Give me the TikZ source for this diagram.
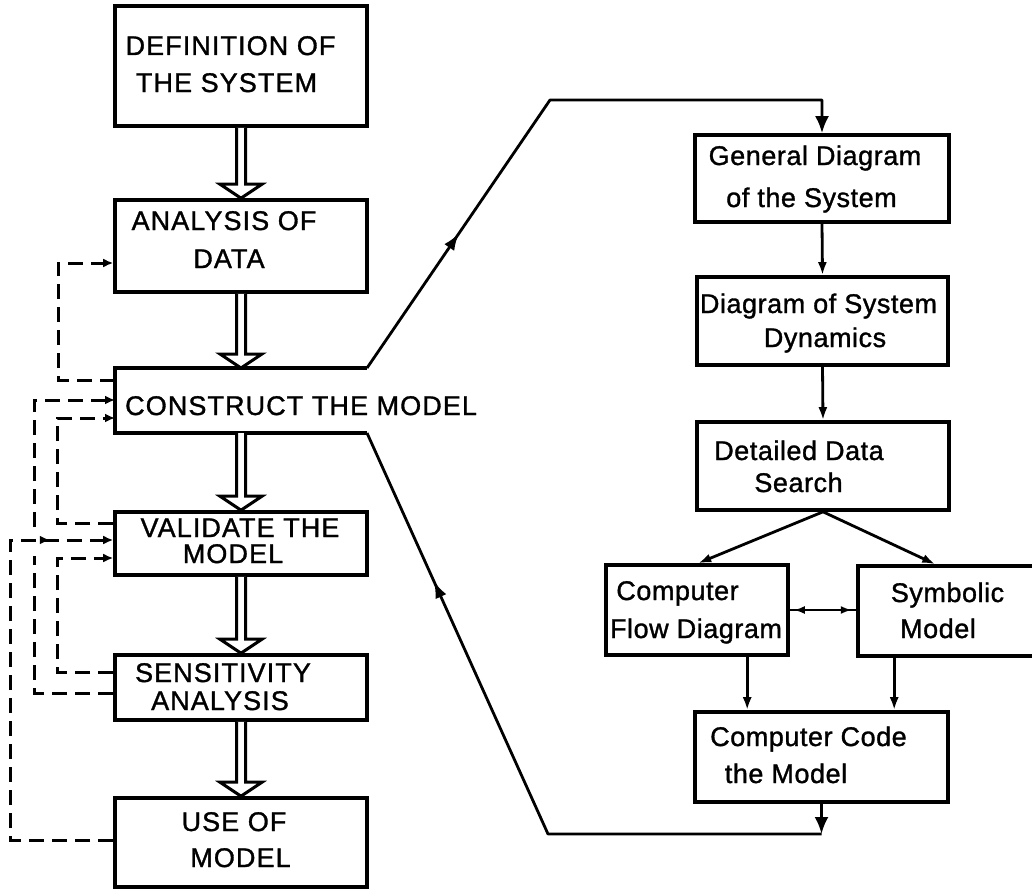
\documentclass[tikz,border=0pt]{standalone}
\usepackage{fontspec}
\setmainfont{Liberation Sans}
\newfontfamily\capfont[LetterSpace=4,FakeBold=1.2]{Liberation Sans}
\newfontfamily\lowfont[LetterSpace=2,FakeBold=1.2]{Liberation Sans}
\usetikzlibrary{arrows.meta,calc,decorations.markings}
\newcommand{\hollowarrow}[2]{%
  \draw[hollowarr] ($(#1.south)+(-4.5,0)$) -- ($(#2.north)+(-4.5,-14)$) -- ($(#2.north)+(-21,-14)$) -- (#2.north) -- ($(#2.north)+(21,-14)$) -- ($(#2.north)+(4.5,-14)$) -- ($(#1.south)+(4.5,0)$);}
\begin{document}
\begin{tikzpicture}[x=1pt,y=-1pt,
  boxed/.style={draw, rectangle, line width=3.6pt, inner sep=0pt},
  captxt/.style={inner sep=0pt, anchor=base, font=\capfont\fontsize{27}{32}\selectfont},
  lowtxt/.style={inner sep=0pt, anchor=base, font=\lowfont\fontsize{27}{32}\selectfont},
  conn/.style={line width=2.8pt, line join=round},
  smalltip/.style={-{Latex[length=13pt,width=9pt]}},
  bigtip/.style={-{Latex[length=17pt,width=14pt]}},
  fb/.style={line width=3pt, dash pattern=on 15pt off 8pt, -{Latex[length=10pt,width=9pt]}},
  hollowarr/.style={line width=3pt, fill=white, line join=miter},
  midarrow/.style={postaction={decorate}, decoration={markings, mark=at position #1 with {\arrow{Latex[length=17pt,width=12pt]}}}},
  fbmid/.style={postaction={decorate}, decoration={markings, mark=at position #1 with {\arrow{Latex[length=10pt,width=9pt]}}}},
  dblmark/.style={postaction={decorate}, decoration={markings,
     mark=at position 4pt with {\arrowreversed{Latex[length=11pt,width=8pt]}},
     mark=at position 62pt with {\arrow{Latex[length=11pt,width=8pt]}}}},
]
\useasboundingbox (0,0) rectangle (1032,891);
\clip (0,0) rectangle (1032,891);
\fill[white] (0,0) rectangle (1032,891);

% left column boxes
\node[boxed, minimum width=252pt, minimum height=120pt] (def) at (241,66) {};
\node[boxed, minimum width=252pt, minimum height=92pt] (ana) at (241,246) {};
\node[boxed, draw=none, outer sep=0pt, minimum width=252pt, minimum height=65pt] (con) at (241,400.5) {};
\node[boxed, minimum width=252pt, minimum height=63pt] (val) at (241,543.5) {};
\node[boxed, minimum width=252pt, minimum height=65pt] (sen) at (241,687.5) {};
\node[boxed, minimum width=252pt, minimum height=89pt] (use) at (241,842.5) {};
\draw[line width=3.6pt, line join=miter] (con.north east) -- (con.north west) -- (con.south west) -- (con.south east);

% left texts
\node[captxt] (tdef1) at (230.5,55) {DEFINITION OF};
\node[captxt] (tdef2) at (226.5,92) {THE SYSTEM};
\node[captxt] (tana1) at (224,230) {ANALYSIS OF};
\node[captxt] (tana2) at (229,268) {DATA};
\node[captxt, anchor=base west] (tcon) at (125,415) {CONSTRUCT THE MODEL};
\node[captxt] (tval1) at (240,537) {VALIDATE THE};
\node[captxt] (tval2) at (233,563) {MODEL};
\node[captxt] (tsen1) at (223,682) {SENSITIVITY};
\node[captxt] (tsen2) at (220,710) {ANALYSIS};
\node[captxt] (tuse1) at (234,831) {USE OF};
\node[captxt] (tuse2) at (240.5,867) {MODEL};

% hollow arrows
\hollowarrow{def}{ana}
\hollowarrow{ana}{con}
\hollowarrow{con}{val}
\hollowarrow{val}{sen}
\hollowarrow{sen}{use}

% dashed feedback lines
\draw[fb] (con.west |- 0,380) -- (58,380) -- (58,263) -- (ana.west |- 0,263);
\draw[fb] (val.west |- 0,523) -- (57,523) -- (57,418) -- (con.west |- 0,418);
\draw[fb] (sen.west |- 0,693) -- (34,693) -- (34,556) (34,527) -- (34,400) -- (con.west |- 0,400);
\draw[fb, fbmid=443pt] (use.west |- 0,840) -- (10,840) -- (10,540) -- (val.west |- 0,540);
\draw[fb] (sen.west |- 0,672) -- (57,672) -- (57,558) -- (val.west |- 0,558);

% right column boxes
\node[boxed, minimum width=254pt, minimum height=87pt] (gen) at (822,178.5) {};
\node[boxed, minimum width=251pt, minimum height=88pt] (dyn) at (822.5,321) {};
\node[boxed, minimum width=252pt, minimum height=88pt] (det) at (823,466) {};
\node[boxed, minimum width=182pt, minimum height=90pt] (flow) at (697,610) {};
\node[boxed, minimum width=190pt, minimum height=90pt] (sym) at (953,611) {};
\node[boxed, minimum width=253pt, minimum height=90pt] (code) at (821.5,757) {};

% right texts
\node[lowtxt] (tgen1) at (815,165) {General Diagram};
\node[lowtxt] (tgen2) at (811.5,207) {of the System};
\node[lowtxt] (tdyn1) at (818.5,313) {Diagram of System};
\node[lowtxt] (tdyn2) at (825,347) {Dynamics};
\node[lowtxt] (tdet1) at (799,460) {Detailed Data};
\node[lowtxt] (tdet2) at (798.5,492) {Search};
\node[lowtxt] (tflow1) at (677.5,600) {Computer};
\node[lowtxt] (tflow2) at (696,638) {Flow Diagram};
\node[lowtxt] (tsym1) at (947.5,602) {Symbolic};
\node[lowtxt] (tsym2) at (938,638) {Model};
\node[lowtxt] (tcode1) at (808.5,746) {Computer Code};
\node[lowtxt] (tcode2) at (786,783) {the Model};

% right connectors
\coordinate (fa) at ($(flow.south west)+(143,0)$);
\coordinate (sa) at ($(sym.south west)+(38,0)$);
\coordinate (fin) at ($(flow.north west)+(94,0)$);
\coordinate (sin) at ($(sym.north west)+(79,0)$);
\coordinate (topturn) at (550,100);
\coordinate (botturn) at (548,834);
\coordinate (codeturn) at (code.south |- 0,834);

\draw[conn, smalltip] (gen.south) -- (dyn.north);
\draw[conn, smalltip] (dyn.south) -- (det.north);
\draw[conn, smalltip] (det.south) -- (fin);
\draw[conn, smalltip] (det.south) -- (sin);
\draw[conn, smalltip] (fa) -- (fa |- code.north);
\draw[conn, smalltip] (sa) -- (sa |- code.north);
\draw[conn, dblmark] (flow.east) -- (flow.east -| sym.west);

% big loop to and from CONSTRUCT THE MODEL
\draw[conn, bigtip, midarrow=163pt] (con.north east) -- (topturn) -- (topturn -| gen.north) -- (gen.north);
\draw[conn, bigtip] (code.south) -- (codeturn);
\draw[conn, midarrow=551pt] (codeturn) -- (botturn) -- (con.south east);
\end{tikzpicture}
\end{document}
